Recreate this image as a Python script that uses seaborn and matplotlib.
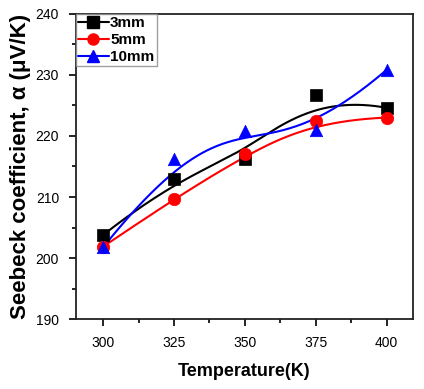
import numpy as np
import pandas as pd
import matplotlib
matplotlib.use("Agg")
import matplotlib.pyplot as plt
from matplotlib.lines import Line2D
from matplotlib.ticker import MultipleLocator
import seaborn as sns

temperature = [300, 325, 350, 375, 400]
s_3mm = [203.8, 212.9, 216.3, 226.7, 224.6]
s_5mm = [201.9, 209.7, 217.0, 222.5, 223.0]
s_10mm = [201.8, 216.2, 220.8, 220.9, 230.8]
labels = ["3mm", "5mm", "10mm"]
colors = ["black", "red", "blue"]
markers = ["s", "o", "^"]


def bspline(px, py, n=300, k=3):
    """Clamped B-spline using the data points as control points."""
    P = np.column_stack([px, py]).astype(float)
    m = len(P)
    inner = np.arange(1, m - k)
    knots = np.concatenate([np.zeros(k + 1), inner, np.full(k + 1, m - k)]).astype(float)
    ts = np.linspace(0, m - k, n)
    out = []
    for t in ts:
        N = np.zeros(len(knots) - 1)
        for i in range(len(knots) - 1):
            if knots[i] <= t < knots[i + 1] or (t == knots[-1] and knots[i] < t <= knots[i + 1]):
                N[i] = 1.0
        for d in range(1, k + 1):
            Nn = np.zeros(len(knots) - 1 - d)
            for i in range(len(Nn)):
                a = 0.0
                if knots[i + d] != knots[i]:
                    a = (t - knots[i]) / (knots[i + d] - knots[i]) * N[i]
                b = 0.0
                if knots[i + d + 1] != knots[i + 1]:
                    b = (knots[i + d + 1] - t) / (knots[i + d + 1] - knots[i + 1]) * N[i + 1]
                Nn[i] = a + b
            N = Nn
        out.append(N[:m] @ P)
    out = np.array(out)
    return out[:, 0], out[:, 1]


sns.set_theme(style="white")
plt.rcParams['font.family'] = ['Liberation Sans', 'DejaVu Sans']

fig = plt.figure(figsize=(4.24, 3.89), dpi=100)
ax = fig.add_axes([0.1785, 0.179, 0.7955, 0.786])

series = [s_3mm, s_5mm, s_10mm]
handles = []
for vals, lab, col, mk in zip(series, labels, colors, markers):
    bx, by = bspline(temperature, vals)
    smooth = pd.DataFrame({"T": bx, "S": by})
    pts = pd.DataFrame({"T": temperature, "S": vals})
    sns.lineplot(data=smooth, x="T", y="S", color=col, lw=1.5, sort=False, ax=ax)
    sns.scatterplot(data=pts, x="T", y="S", color=col, marker=mk, s=80,
                    edgecolor=col, linewidth=0.5, ax=ax, zorder=3)
    handles.append(Line2D([0], [0], color=col, lw=1.5, marker=mk, markersize=8, label=lab))

ax.set_xlim(290.3, 409.3)
ax.set_ylim(190, 240)
ax.xaxis.set_major_locator(MultipleLocator(25))
ax.xaxis.set_minor_locator(MultipleLocator(12.5))
ax.yaxis.set_major_locator(MultipleLocator(10))
ax.yaxis.set_minor_locator(MultipleLocator(5))
ax.tick_params(which="both", direction="out", bottom=True, left=True, top=False, right=False,
               color="black", width=1.2, labelcolor="black")
ax.tick_params(which="major", length=5, labelsize=10, pad=7)
ax.tick_params(which="minor", length=3)
for sp in ax.spines.values():
    sp.set_color("#222222")
    sp.set_linewidth(1.3)

ax.set_xlabel("Temperature(K)", fontsize=13, fontweight="bold", labelpad=9, color="black")
ax.set_ylabel("Seebeck coefficient, α (μV/K)", fontsize=16, fontweight="bold", labelpad=3,
              color="black")

leg = ax.legend(handles=handles, loc="upper left", bbox_to_anchor=(0, 1), borderaxespad=0,
                frameon=True, fancybox=False, prop={"weight": "bold", "size": 11},
                handlelength=2.0, handletextpad=0.1, labelspacing=0.2, borderpad=0.15)
leg.get_frame().set_edgecolor("#888888")
leg.get_frame().set_linewidth(1.0)
for t in leg.get_texts():
    t.set_color("black")

fig.savefig("out.png", dpi=100)
